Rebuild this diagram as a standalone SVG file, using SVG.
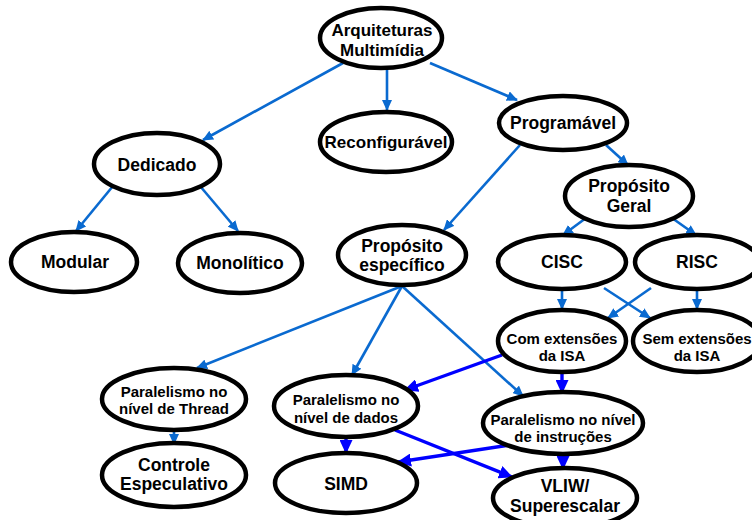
<svg xmlns="http://www.w3.org/2000/svg" width="752" height="520" viewBox="0 0 752 520">
  <style>
    .node ellipse { fill: #ffffff; stroke: #000000; stroke-width: 4.5; }
    .node text { font-family: "Liberation Sans", Arial, sans-serif; font-weight: bold; fill: #000000; text-anchor: middle; }
    .lg { font-size: 17.5px; }
    .md { font-size: 17px; }
    .sm { font-size: 15px; }
    .lt { stroke: #0A6AD0; stroke-width: 2.6; fill: none; marker-end: url(#arrLt); }
    .dk { stroke: #0000FF; stroke-width: 3.4; fill: none; marker-end: url(#arrDk); }
  </style>
  <defs>
    <marker id="arrLt" markerUnits="userSpaceOnUse" markerWidth="11" markerHeight="10" refX="10" refY="5" orient="auto">
      <path d="M0,0 L11,5 L0,10 z" fill="#0A6AD0"/>
    </marker>
    <marker id="arrDk" markerUnits="userSpaceOnUse" markerWidth="14" markerHeight="13" refX="13" refY="6.5" orient="auto">
      <path d="M0,0 L14,6.5 L0,13 z" fill="#0000FF"/>
    </marker>
  </defs>
  <rect width="752" height="520" fill="#ffffff"/>

  <!-- connectors -->
  <g id="connectors">
    <line class="lt" x1="343" y1="63" x2="203" y2="140"/>
    <line class="lt" x1="387" y1="68" x2="387" y2="110"/>
    <line class="lt" x1="430" y1="63" x2="517" y2="100"/>
    <line class="lt" x1="113" y1="186" x2="76" y2="231"/>
    <line class="lt" x1="200" y1="186" x2="238" y2="231"/>
    <line class="lt" x1="520" y1="145" x2="444" y2="230"/>
    <line class="lt" x1="606" y1="145" x2="628" y2="165"/>
    <line class="lt" x1="586" y1="218" x2="563" y2="235"/>
    <line class="lt" x1="672" y1="218" x2="696" y2="235"/>
    <line class="lt" x1="562" y1="289" x2="562" y2="309"/>
    <line class="lt" x1="604" y1="288" x2="650" y2="318"/>
    <line class="lt" x1="651" y1="288" x2="608" y2="318"/>
    <line class="lt" x1="697" y1="289" x2="697" y2="309"/>
    <line class="lt" x1="402" y1="286" x2="197" y2="368"/>
    <line class="lt" x1="402" y1="286" x2="352" y2="375"/>
    <line class="lt" x1="402" y1="286" x2="523" y2="396"/>
    <line class="lt" x1="174" y1="430" x2="174" y2="444"/>
    <line class="dk" x1="502" y1="355" x2="405" y2="390"/>
    <line class="dk" x1="562" y1="372" x2="562" y2="393"/>
    <line class="dk" x1="346" y1="437" x2="346" y2="453"/>
    <line class="dk" x1="395" y1="430" x2="512" y2="477"/>
    <line class="dk" x1="510" y1="445" x2="398" y2="462"/>
    <line class="dk" x1="563" y1="455" x2="563" y2="469"/>
  </g>

  <g id="arquiteturas" class="node">
    <ellipse cx="381" cy="38" rx="61" ry="30"/>
    <text class="md" x="382" y="36">Arquiteturas</text>
    <text class="md" x="382" y="56">Multimídia</text>
  </g>
  <g id="reconfiguravel" class="node">
    <ellipse cx="386" cy="142" rx="66" ry="30"/>
    <text class="md" x="386" y="148">Reconfigurável</text>
  </g>
  <g id="dedicado" class="node">
    <ellipse cx="157" cy="164" rx="63" ry="31"/>
    <text class="lg" x="157" y="171">Dedicado</text>
  </g>
  <g id="modular" class="node">
    <ellipse cx="74" cy="262" rx="63" ry="30"/>
    <text class="lg" x="75" y="268">Modular</text>
  </g>
  <g id="monolitico" class="node">
    <ellipse cx="240" cy="263" rx="62" ry="30"/>
    <text class="lg" x="240" y="269">Monolítico</text>
  </g>
  <g id="programavel" class="node">
    <ellipse cx="563" cy="123" rx="64" ry="27"/>
    <text class="lg" x="563" y="129">Programável</text>
  </g>
  <g id="proposito-geral" class="node">
    <ellipse cx="629" cy="196" rx="64" ry="31"/>
    <text class="lg" x="629" y="192">Propósito</text>
    <text class="lg" x="629" y="212">Geral</text>
  </g>
  <g id="cisc" class="node">
    <ellipse cx="562" cy="262" rx="64" ry="27"/>
    <text class="lg" x="562" y="268">CISC</text>
  </g>
  <g id="risc" class="node">
    <ellipse cx="697" cy="262" rx="62" ry="27"/>
    <text class="lg" x="697" y="268">RISC</text>
  </g>
  <g id="com-extensoes" class="node">
    <ellipse cx="562" cy="341" rx="64" ry="31"/>
    <text class="sm" x="562" y="344">Com extensões</text>
    <text class="sm" x="562" y="361">da ISA</text>
  </g>
  <g id="sem-extensoes" class="node">
    <ellipse cx="697" cy="341" rx="64" ry="31"/>
    <text class="sm" x="697" y="344">Sem extensões</text>
    <text class="sm" x="697" y="361">da ISA</text>
  </g>
  <g id="proposito-especifico" class="node">
    <ellipse cx="402" cy="255" rx="64" ry="30"/>
    <text class="lg" x="402" y="252">Propósito</text>
    <text class="lg" x="402" y="271">específico</text>
  </g>
  <g id="par-thread" class="node">
    <ellipse cx="174" cy="399" rx="72" ry="31"/>
    <text class="sm" x="174" y="397">Paralelismo no</text>
    <text class="sm" x="174" y="414">nível de Thread</text>
  </g>
  <g id="controle-especulativo" class="node">
    <ellipse cx="174" cy="475" rx="72" ry="32"/>
    <text class="lg" x="174" y="471">Controle</text>
    <text class="lg" x="174" y="490">Especulativo</text>
  </g>
  <g id="par-dados" class="node">
    <ellipse cx="346" cy="406" rx="72" ry="31"/>
    <text class="sm" x="346" y="405">Paralelismo no</text>
    <text class="sm" x="346" y="423">nível de dados</text>
  </g>
  <g id="simd" class="node">
    <ellipse cx="346" cy="483" rx="71" ry="30"/>
    <text class="lg" x="346" y="490">SIMD</text>
  </g>
  <g id="par-instrucoes" class="node">
    <ellipse cx="563" cy="423" rx="80" ry="31"/>
    <text class="sm" x="563" y="425">Paralelismo no nível</text>
    <text class="sm" x="563" y="442">de instruções</text>
  </g>
  <g id="vliw" class="node">
    <ellipse cx="565" cy="498" rx="72" ry="30"/>
    <text class="lg" x="565" y="492">VLIW/</text>
    <text class="lg" x="565" y="512">Superescalar</text>
  </g>
</svg>
